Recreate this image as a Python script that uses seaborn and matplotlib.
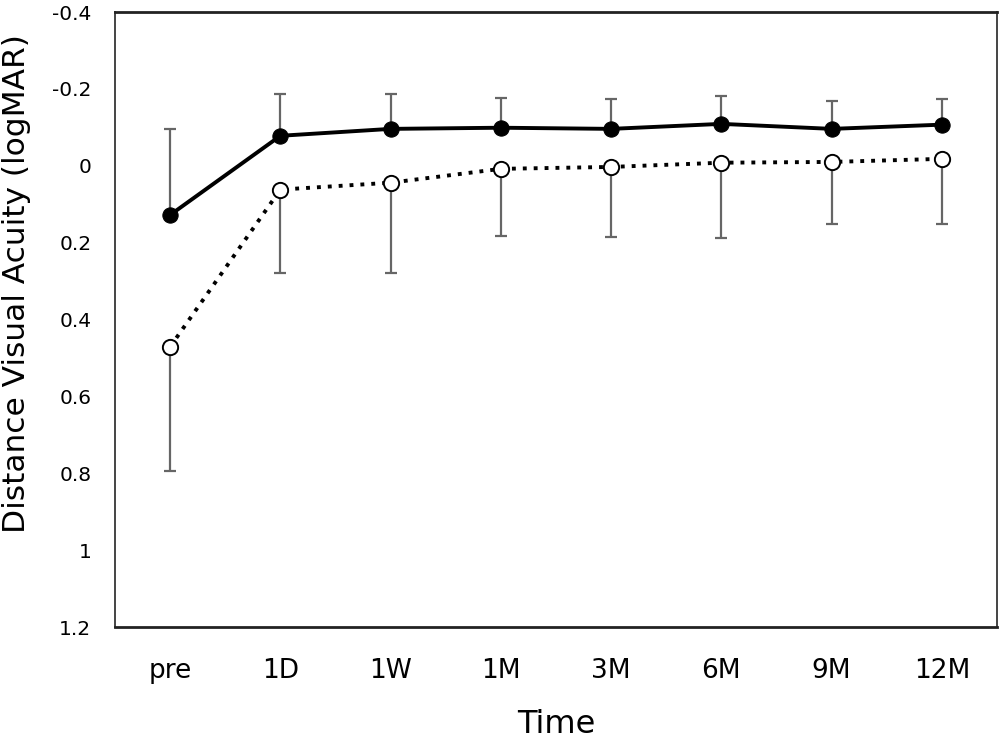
import matplotlib
matplotlib.use("Agg")
import matplotlib.pyplot as plt
import seaborn as sns
import numpy as np
import pandas as pd

times = ["pre", "1D", "1W", "1M", "3M", "6M", "9M", "12M"]
solid_mean = [0.128, -0.078, -0.096, -0.099, -0.096, -0.109, -0.096, -0.107]
solid_err = [0.224, 0.110, 0.091, 0.078, 0.078, 0.073, 0.073, 0.067]
open_mean = [0.471, 0.062, 0.044, 0.008, 0.003, -0.008, -0.010, -0.018]
open_err = [0.323, 0.217, 0.235, 0.174, 0.182, 0.196, 0.161, 0.169]
yticks = [-0.4, -0.2, 0, 0.2, 0.4, 0.6, 0.8, 1, 1.2]
ytick_labels = ["-0.4", "-0.2", "0", "0.2", "0.4", "0.6", "0.8", "1", "1.2"]

sns.set_style("white")
plt.rcParams["font.family"] = ["DejaVu Sans"]
plt.rcParams["text.color"] = "black"
plt.rcParams["axes.labelcolor"] = "black"
plt.rcParams["xtick.color"] = "black"
plt.rcParams["ytick.color"] = "black"

fig = plt.figure(figsize=(9.99, 7.38), dpi=100)
ax = fig.add_axes([0.1151, 0.1504, 0.8829, 0.8333])

x = np.arange(len(times))
df = pd.DataFrame({"x": np.concatenate([x, x]),
                   "y": solid_mean + open_mean,
                   "g": ["solid"] * len(x) + ["open"] * len(x)})

# error bars (one-sided): solid upward (toward negative), open downward
ax.errorbar(x, solid_mean, yerr=[solid_err, np.zeros(len(x))], fmt="none",
            ecolor="#666666", elinewidth=1.6, capsize=4.5, capthick=1.6, zorder=1)
ax.errorbar(x, open_mean, yerr=[np.zeros(len(x)), open_err], fmt="none",
            ecolor="#666666", elinewidth=1.6, capsize=4.5, capthick=1.6, zorder=1)

sns.lineplot(data=df[df.g == "solid"], x="x", y="y", ax=ax, color="black",
             linewidth=2.8, marker="o", markersize=11, markerfacecolor="black",
             markeredgecolor="black", zorder=3, legend=False)
sns.lineplot(data=df[df.g == "open"], x="x", y="y", ax=ax, color="black",
             linewidth=2.8, linestyle=(0, (1, 1.8)), marker="o", markersize=11,
             markerfacecolor="white", markeredgecolor="black", markeredgewidth=1.4,
             zorder=3, legend=False)

ax.set_xlim(-0.5, len(times) - 0.5)
ax.set_ylim(1.2, -0.4)
ax.set_yticks(yticks)
ax.set_yticklabels(ytick_labels)
ax.set_xticks(x)
ax.set_xticklabels(times)
ax.tick_params(axis="y", direction="in", length=6, width=1.2, color="#333333",
               labelsize=14.5, pad=17)
ax.tick_params(axis="x", length=0, labelsize=19, pad=22)

ax.set_xlabel("Time", fontsize=23, labelpad=18)
ax.set_ylabel("Distance Visual Acuity (logMAR)", fontsize=22.5)
ax.yaxis.label.set_verticalalignment("center")
ax.yaxis.set_label_coords(-0.112, 0.559)

for side in ["top", "bottom"]:
    ax.spines[side].set_color("#222222")
    ax.spines[side].set_linewidth(2.0)
for side in ["left", "right"]:
    ax.spines[side].set_color("#444444")
    ax.spines[side].set_linewidth(1.4)

fig.savefig("out.png", dpi=100)
